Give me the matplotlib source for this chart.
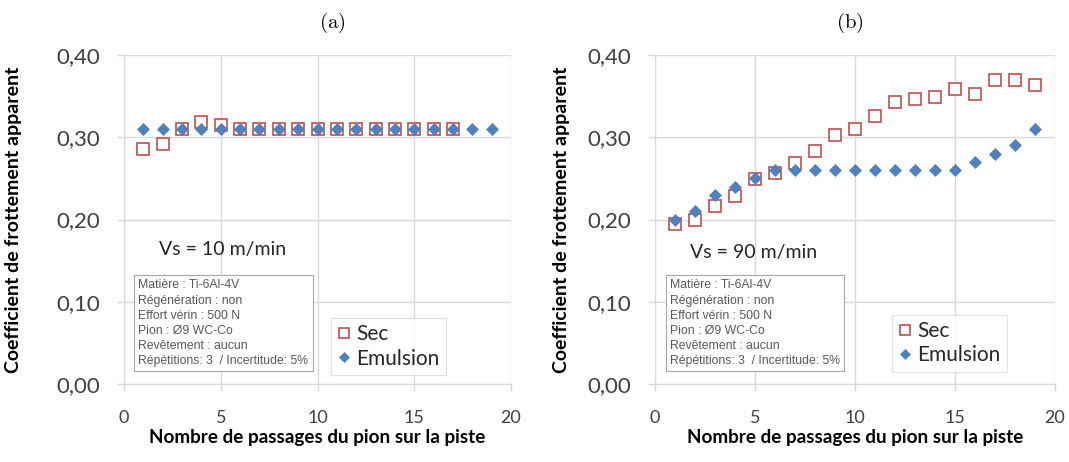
import matplotlib
matplotlib.use("Agg")
import matplotlib.pyplot as plt
from matplotlib.ticker import FuncFormatter

# ---- data ----
passes_sec_a = [1, 2, 3, 4, 5, 6, 7, 8, 9, 10, 11, 12, 13, 14, 15, 16, 17]
sec_a = [0.286, 0.292, 0.310, 0.319, 0.315, 0.310, 0.310, 0.310, 0.310,
         0.310, 0.310, 0.310, 0.310, 0.310, 0.310, 0.310, 0.310]
passes_emu_a = list(range(1, 20))
emu_a = [0.310] * 19

passes_b = list(range(1, 20))
sec_b = [0.195, 0.199, 0.216, 0.229, 0.249, 0.256, 0.269, 0.283, 0.303, 0.310,
         0.326, 0.343, 0.346, 0.349, 0.359, 0.353, 0.370, 0.370, 0.364]
emu_b = [0.200, 0.210, 0.230, 0.240, 0.250, 0.260, 0.260, 0.260, 0.260, 0.260,
         0.260, 0.260, 0.260, 0.260, 0.260, 0.270, 0.280, 0.290, 0.310]

panel_titles = ["(a)", "(b)"]
speeds = ["Vs = 10 m/min", "Vs = 90 m/min"]
info = ("Matière : Ti-6Al-4V\n"
        "Régénération : non\n"
        "Effort vérin : 500 N\n"
        "Pion : Ø9 WC-Co\n"
        "Revêtement : aucun\n"
        "Répétitions: 3  / Incertitude: 5%")
xlabel = "Nombre de passages du pion sur la piste"
ylabel = "Coefficient de frottement apparent"
xticks = [0, 5, 10, 15, 20]
yticks = [0.0, 0.1, 0.2, 0.3, 0.4]

SEC_COLOR = "#c0504d"
EMU_COLOR = "#4f81bd"
GRID = "#d9d9d9"
SANS = "Lato"

plt.rcParams["mathtext.fontset"] = "cm"

fig = plt.figure(figsize=(10.69, 4.62), dpi=100)
axes = [fig.add_axes([124 / 1069, 78 / 462, 387 / 1069, 329 / 462]),
        fig.add_axes([655 / 1069, 78 / 462, 400 / 1069, 329 / 462])]

series = [(passes_sec_a, sec_a, passes_emu_a, emu_a),
          (passes_b, sec_b, passes_b, emu_b)]
legend_pos = [(0.535, 0.20), (0.593, 0.21)]
speed_pos = [(5.1, 0.163), (4.95, 0.16)]
ylabel_x = [-0.2636, -0.2125]

for i, ax in enumerate(axes):
    xs, ys, xe, ye = series[i]
    ax.plot(xs, ys, ls="none", marker="s", ms=8, mfc="white", mec=SEC_COLOR,
            mew=1.2, label="Sec", zorder=3)
    ax.plot(xe, ye, ls="none", marker="D", ms=6.5, mfc=EMU_COLOR, mec=EMU_COLOR,
            mew=0.5, label="Emulsion", zorder=4)

    ax.set_xlim(0, 20)
    ax.set_ylim(0, 0.4)
    ax.set_xticks(xticks)
    ax.set_yticks(yticks)
    ax.yaxis.set_major_formatter(FuncFormatter(lambda v, p: f"{v:.2f}".replace(".", ",")))
    ax.grid(True, color=GRID, lw=1)
    ax.set_axisbelow(True)
    for s in ["top", "right"]:
        ax.spines[s].set_visible(False)
    for s in ["left", "bottom"]:
        ax.spines[s].set_color(GRID)
    ax.tick_params(axis="both", colors=GRID, length=5, width=1)
    ax.tick_params(axis="y", labelcolor="#404040", labelsize=16, pad=12)
    ax.tick_params(axis="x", labelcolor="#404040", labelsize=13, pad=14)
    for lab in ax.get_xticklabels() + ax.get_yticklabels():
        lab.set_family(SANS)

    ax.set_xlabel(xlabel, family=SANS, fontweight="bold", fontsize=13.6, labelpad=2)
    ax.set_ylabel(ylabel, family=SANS, fontweight="bold", fontsize=14)
    ax.yaxis.set_label_coords(ylabel_x[i], 0.5)

    ax.text(*speed_pos[i], speeds[i], family=SANS, fontsize=14, color="#262626",
            ha="center", va="center")
    ax.text(0.037, 0.318, info, transform=ax.transAxes, family="Liberation Sans",
            fontsize=8.8, color="#595959", ha="left", va="top", linespacing=1.35,
            bbox=dict(boxstyle="square,pad=0.35", fc="white", ec="#a6a6a6", lw=0.8),
            zorder=5)

    leg = ax.legend(loc="upper left", bbox_to_anchor=legend_pos[i], frameon=True,
                    fancybox=False, edgecolor="#d9d9d9", prop={"family": SANS, "size": 15},
                    handlelength=0.6, handletextpad=0.3, borderpad=0.3,
                    labelspacing=0.2, borderaxespad=0, markerscale=0.85)
    leg.get_frame().set_linewidth(0.8)
    for t in leg.get_texts():
        t.set_color("#262626")
    leg.set_zorder(6)

fig.text(332 / 1069, 1 - 23 / 462, r"$\mathrm{(a)}$", fontsize=15, ha="center", va="center")
fig.text(850 / 1069, 1 - 23 / 462, r"$\mathrm{(b)}$", fontsize=15, ha="center", va="center")

fig.savefig("out.png", dpi=100)
